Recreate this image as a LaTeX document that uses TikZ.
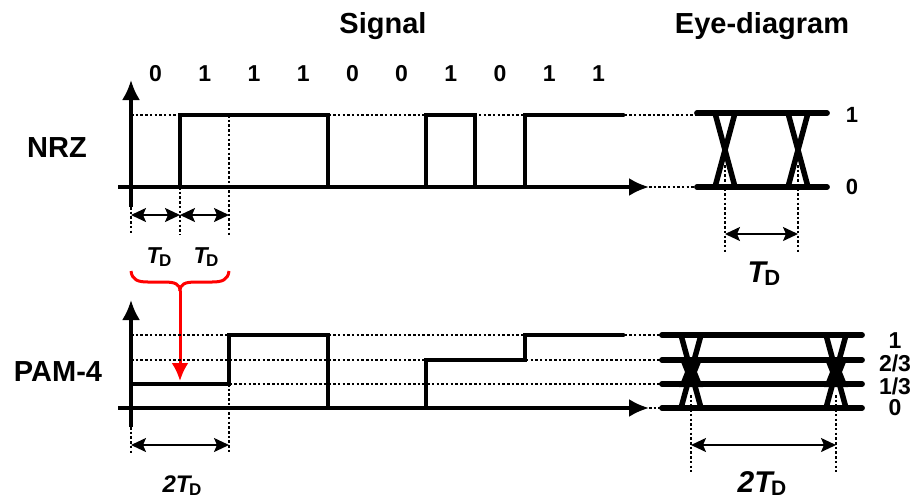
\documentclass[tikz,border=0pt]{standalone}
\usepackage{fontspec}
\setmainfont{Liberation Sans}
\usetikzlibrary{arrows.meta}
% T_D style symbol: #1 size of T, #2 size of D, #3 optional prefix
\newcommand{\tdsym}[3]{{\fontsize{#1}{#1}\selectfont\bfseries\itshape #3T\kern-1.5pt\upshape\raisebox{-3pt}{\fontsize{#2}{#2}\selectfont D}}}
\begin{document}
\begin{tikzpicture}[x=1pt,y=-1pt,
  sig/.style={line width=4.8pt, line join=miter},
  ax/.style={line width=3.2pt,-{Latex[length=20pt,width=18pt]}},
  guide/.style={line width=1.3pt, dash pattern=on 2.5pt off 2.2pt},
  eyeln/.style={line width=5.8pt, line cap=round},
  cross/.style={line width=5.5pt},
  span/.style={line width=1.8pt,{Stealth[length=15pt,width=14pt,inset=3pt]}-{Stealth[length=15pt,width=14pt,inset=3pt]}},
  ttl/.style={font=\fontsize{29}{32}\selectfont\bfseries, inner sep=0pt, anchor=base},
  bit/.style={font=\fontsize{23}{24}\selectfont\bfseries, inner sep=0pt, anchor=base},
  lvl/.style={font=\fontsize{22}{22}\selectfont\bfseries, inner sep=0pt, anchor=base},
  plvl/.style={font=\fontsize{23}{23}\selectfont\bfseries, inner sep=0pt, anchor=base},
  tdl/.style={inner sep=0pt, anchor=base},
  redmark/.style={red, line width=3pt},
]
\useasboundingbox (0,0) rectangle (921,499);

% ---------- headings and row labels ----------
\node[ttl] (hsig) at (383,33) {Signal};
\node[ttl] (heye) at (762,33) {Eye-diagram};
\node[ttl] (hnrz) at (57,157) {NRZ};
\node[ttl] (hpam) at (58,381) {PAM-4};

% ---------- bit sequence ----------
\foreach \b [count=\i from 0] in {0,1,1,1,0,0,1,0,1,1}
  \node[bit] (bit\i) at ({155.6+49.2*\i},81) {\b};

% ================= NRZ =================
\coordinate (nYtop) at (131,80);
\coordinate (nYbot) at (131,207);
\coordinate (nXl) at (118,187);
\coordinate (nXr) at (649,187);

% guide lines
\draw[guide] (131,115) -- (697,115);
\draw[guide] (nXr) -- (697,187);
\draw[guide] (nYbot) -- (131,235);
\draw[guide] (180,187) -- (180,235);
\draw[guide] (229,115) -- (229,235);

% axes
\draw[ax] (nYbot) -- (nYtop);
\draw[ax] (nXl) -- (nXr);

% waveform
\draw[sig] (131,187) -- (180,187) -- (180,115) -- (328,115) -- (328,187)
  -- (426,187) -- (426,115) -- (475,115) -- (475,187) -- (525,187)
  -- (525,115) -- (623,115);
\draw[line width=4.8pt, line cap=round] (610,115) -- (623,115);

% bit period spans
\coordinate (s0) at (131,215);
\coordinate (s1) at (180,215);
\coordinate (s2) at (229,215);
\draw[span] (s0) -- (s1);
\draw[span] (s1) -- (s2);
\node[tdl] (td1) at (159,263) {\tdsym{23}{17}{}};
\node[tdl] (td2) at (206,263) {\tdsym{23}{17}{}};

% NRZ eye
\draw[eyeln] (697,113) -- (827,113);
\draw[eyeln] (697,187) -- (827,187);
\foreach \c in {725,798}{
  \draw[cross] (\c-10,113) -- (\c+10,187);
  \draw[cross] (\c+10,113) -- (\c-10,187);
}
\draw[guide] (725,165) -- (725,252);
\draw[guide] (798,165) -- (798,252);
\coordinate (e0) at (725,234);
\coordinate (e1) at (798,234);
\draw[span] (e0) -- (e1);
\node[tdl] (tde) at (764,282) {\tdsym{30}{22}{}};
\node[lvl] (nl1) at (852,122) {1};
\node[lvl] (nl0) at (852,194) {0};

% ---------- red brace and pointer ----------
\coordinate (bl) at (131,271);
\coordinate (br) at (229,271);
\coordinate (bm) at (180,291);
\coordinate (ptip) at (180,381);
\draw[redmark] (bl) .. controls (132,280) and (138,282) .. (148,282)
  -- (164,282) .. controls (175,282) and (180,284) .. (bm);
\draw[redmark] (br) .. controls (228,280) and (222,282) .. (212,282)
  -- (196,282) .. controls (185,282) and (180,284) .. (bm);
\draw[redmark, -{Latex[length=18pt,width=17pt]}] (bm) -- (ptip);

% ================= PAM-4 =================
\coordinate (pYtop) at (131,300);
\coordinate (pYbot) at (131,427);
\coordinate (pXl) at (118,408);
\coordinate (pXr) at (649,408);

% guide lines
\foreach \yy in {335,360,384}
  \draw[guide] (131,\yy) -- (662,\yy);
\draw[guide] (pXr) -- (662,408);
\draw[guide] (pYbot) -- (131,453);
\draw[guide] (229,384) -- (229,453);

% axes
\draw[ax] (pYbot) -- (pYtop);
\draw[ax] (pXl) -- (pXr);

% waveform
\draw[sig] (131,384) -- (229,384) -- (229,335) -- (328,335) -- (328,408)
  -- (426,408) -- (426,360) -- (525,360) -- (525,335) -- (623,335);
\draw[line width=4.8pt, line cap=round] (610,335) -- (623,335);

% symbol period span
\coordinate (q0) at (131,445);
\coordinate (q1) at (229,445);
\draw[span] (q0) -- (q1);
\node[tdl] (td3) at (182,492) {\tdsym{24}{17}{2}};

% PAM-4 eye
\foreach \yy in {335,360,384,408}
  \draw[eyeln] (662,\yy) -- (862,\yy);
\foreach \c in {691,836}{
  \draw[cross] (\c-10,335) -- (\c+10,408);
  \draw[cross] (\c+10,335) -- (\c-10,408);
  \fill (\c-12,357) -- (\c+12,357) -- (\c+6,372) -- (\c+12,387)
    -- (\c-12,387) -- (\c-6,372) -- cycle;
}
\draw[guide] (691,395) -- (691,472);
\draw[guide] (836,395) -- (836,472);
\coordinate (f0) at (691,445);
\coordinate (f1) at (836,445);
\draw[span] (f0) -- (f1);
\node[tdl] (tdf) at (762,492) {\tdsym{30}{21}{2}};
\node[plvl] (pl1)  at (895,348) {1};
\node[plvl] (pl23) at (895,371) {2/3};
\node[plvl] (pl13) at (895,394) {1/3};
\node[plvl] (pl0)  at (895,415) {0};
\end{tikzpicture}
\end{document}
